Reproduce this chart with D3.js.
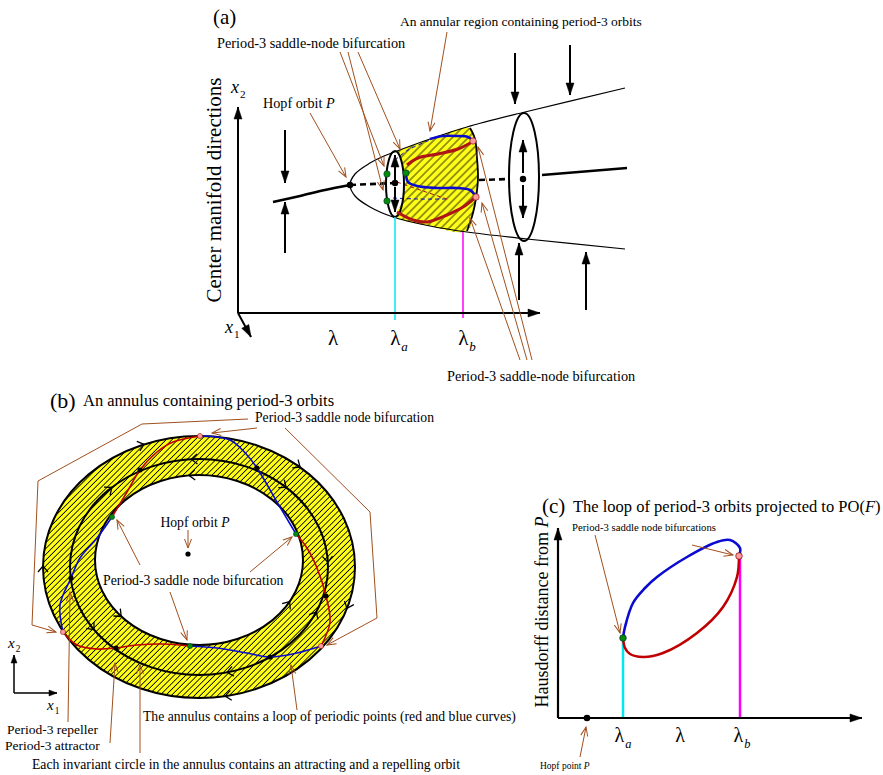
<!DOCTYPE html>
<html>
<head>
<meta charset="utf-8">
<script src="https://cdnjs.cloudflare.com/ajax/libs/d3/7.8.5/d3.min.js"></script>
<style>
  body { margin: 0; background: #fff; }
  text { font-family: "Liberation Serif", "Times New Roman", serif; fill: #000; }
</style>
</head>
<body>
<div id="chart"></div>
<script>
// ---------- panel (a): x along the lambda axis, y above it ----------
const aParabolaUpper = [[112,128],[117,139],[132,150],[146,157],[159,162],[192,174],[229,186],[287,201],[387,225]];
const aParabolaLower = [[112,128],[117,117],[132,106],[155,96],[192,87],[229,81],[289,74],[387,64]];
const aStableLeft = [[35,111],[62,117],[87,123],[112,128]];
const aStableRight = [[304,138],[389,145]];
const aDashed = [[[112,128],[157,130]], [[241,133],[272,134]]];
const aEllipses = [{c:[157,129], rx:9, ry:33}, {c:[286,136], rx:15, ry:64}];
const aTube = [[159,162],[192,174],[232,185],[237,174],[239,155],[240,135],[238,115],[235,100],[229,82],
               [192,87],[159,97],[165,113],[167,130],[165,147],[159,162]];
const aTubeRim = [[232,185],[237,174],[239,155],[240,135],[238,115],[235,100],[229,82]];
const aBlue = [[[192,174],[205,177],[219,177],[230,176],[235,172]],
               [[168,140],[170,131],[179,127],[199,125],[219,125],[232,123],[238,116]]];
const aRed = [[[169,148],[180,155],[200,159],[220,164],[234,171]],
              [[159,101],[175,93],[189,91],[209,98],[225,106],[238,116]]];
const aHiddenBlue = [[[157,153],[170,163],[192,173]], [[155,115],[180,114],[209,114]]];
const aHiddenRed = [[[159,131],[185,122],[212,113]]];
const aGreenDots = [[149,139],[149,112],[168,140]];
const aPinkDots = [[235,172],[238,116]];
const aBlackDots = [[112,128],[157,130],[285,134]];
const aInnerArrows = [[[157,133],[157,158]], [[157,126],[157,101]], [[285,140],[285,173]], [[285,128],[285,95]]];
const aFlowArrows = [[[47,183],[47,130]], [[47,60],[47,111]], [[277,260],[277,209]],
                     [[332,268],[332,218]], [[281,13],[281,70]], [[348,3],[348,61]]];
const aAxes = [[[0,0],[0,206]], [[0,0],[302,0]], [[0,0],[13,-24]]];
const aLambdaA = [[157,96],[157,-7]];
const aLambdaB = [[225,81],[225,-5]];
const aLeaders = [[[72,200],[108,136]], [[102,261],[146,147]], [[110,261],[145,123]], [[120,261],[162,164]],
                  [[209,281],[192,182]], [[294,-47],[240,166]], [[289,-47],[244,110]], [[282,-47],[232,95]]];

// ---------- panel (b): centred on the annulus, y up ----------
const bRings = [{name:"outer", c:[0,0], rx:156, ry:131},
                {name:"middle", c:[0,0], rx:129, ry:108},
                {name:"inner", c:[0,7], rx:104, ry:85}];
// chevrons: ring, parameter angle (deg), direction (+1 clockwise on screen)
const bChevrons = [["outer",-111,1],["outer",-50,1],["outer",18,1],["outer",80,1],["outer",180,1],
                   ["middle",-133,1],["middle",-93,-1],["middle",-48,1],["middle",-3,1],["middle",25,-1],
                   ["middle",77,1],["middle",145,-1],
                   ["inner",-95,-1],["inner",139,-1],["inner",30,-1]];
const bRed = [[[1,131],[-26,125],[-42,115],[-59,97],[-72,75],[-87,50]],
              [[-136,-65],[-122,-78],[-102,-82],[-83,-81],[-62,-78],[-36,-77],[-9,-79]],
              [[122,-79],[131,-55],[127,-29],[118,-1],[108,19],[97,33]]];
const bBlue = [[[-87,50],[-102,29],[-119,9],[-128,-11],[-139,-38],[-136,-65]],
               [[-9,-79],[18,-81],[48,-86],[71,-90],[98,-86],[122,-79]],
               [[97,33],[78,65],[58,99],[48,112],[31,127],[1,131]]];
const bBlackDots = [[-59,97],[-128,-11],[-83,-81],[71,-90],[127,-29],[58,99],[-11,13]];
const bGreenDots = [[-87,50],[-9,-79],[97,33]];
const bPinkDots = [[1,131],[-136,-65],[122,-79]];
const bLeaders = [[[58,139],[13,134]],
                  [[49,148],[-57,143],[-161,86],[-167,-58],[-143,-65]],
                  [[86,139],[171,55],[178,-51],[128,-78]],
                  [[-11,37],[-11,19]],
                  [[-59,2],[-82,47]], [[51,-5],[93,30]], [[-29,-25],[-12,-73]],
                  [[-131,-155],[-129,-25]], [[-89,-176],[-84,-96]],
                  [[-59,-186],[-59,-98]], [[98,-143],[92,-98]]];
const bAxes = [[[-185,-126],[-185,-88]], [[-185,-126],[-142,-126]]];

// ---------- panel (c): origin at the axes corner ----------
const cBlue = [[65,80],[67,91],[75,115],[87,130],[99,141],[129,161],[159,176],[172,178],[182,170],[181,162]];
const cRed = [[181,162],[179,141],[165,111],[139,85],[105,65],[85,61],[72,64],[67,70],[65,80]];
const cAxes = [[[0,0],[0,190]], [[0,0],[304,0]]];
const cLambdaA = [[65,80],[65,0]];
const cLambdaB = [[182,162],[182,0]];
const cHopf = [29,0];
const cGreen = [65,80];
const cPink = [181,162];
const cLeaders = [[[37,183],[62,85]], [[134,173],[175,163]], [[22,-39],[28,-9]]];

// ---------- drawing ----------
const YELLOW = "#ffff1a", BROWN = "#a0501e", RED = "#c00000", DARKRED = "#b01515",
      BLUE = "#0a0ad0", CYAN = "#00e8f0", MAGENTA = "#ff00ff", GREEN = "#0a8a0a", PINK = "#ff9a9a";

const svg = d3.select("#chart").append("svg").attr("width", 883).attr("height", 775);
const defs = svg.append("defs");

function marker(id, w, h, color, filled) {
  defs.append("marker").attr("id", id)
    .attr("markerUnits", "userSpaceOnUse")
    .attr("viewBox", `-1 -1 ${w + 2} ${h + 2}`)
    .attr("markerWidth", w + 2).attr("markerHeight", h + 2)
    .attr("refX", w).attr("refY", h / 2).attr("orient", "auto")
    .append("path")
    .attr("d", `M0,0 L${w},${h / 2} L0,${h}` + (filled ? "Z" : ""))
    .attr("fill", filled ? color : "none")
    .attr("stroke", color).attr("stroke-width", filled ? 0.5 : 1);
}
marker("ahBlack", 12, 8, "#000", true);
marker("ahSmall", 8, 6, "#000", true);
marker("ahBrown", 9, 7, BROWN, false);

function hatch(id, gap, sw) {
  const p = defs.append("pattern").attr("id", id)
    .attr("patternUnits", "userSpaceOnUse")
    .attr("width", gap).attr("height", gap)
    .attr("patternTransform", "rotate(45)");
  p.append("rect").attr("width", gap).attr("height", gap).attr("fill", YELLOW);
  p.append("line").attr("x1", gap / 2).attr("x2", gap / 2).attr("y1", 0).attr("y2", gap)
    .attr("stroke", "#000").attr("stroke-width", sw);
}
hatch("hatchA", 5.6, 0.8);
hatch("hatchB", 4.1, 0.85);

// text with italic / subscript pieces: parts = [[str, "i" | "sub" | "isub" | ""]]
function label(g, x, y, parts, size, opts = {}) {
  const t = g.append("text").attr("x", x).attr("y", y).attr("font-size", size)
    .attr("text-anchor", opts.anchor || "start");
  if (opts.rotate) t.attr("transform", `rotate(${opts.rotate},${x},${y})`);
  let shifted = false;
  parts.forEach(([s, st]) => {
    const sp = t.append("tspan").text(s);
    if (st === "i" || st === "isub") sp.attr("font-style", "italic");
    if (st === "sub" || st === "isub") {
      sp.attr("font-size", size * 0.62).attr("dy", size * 0.28).attr("dx", 1);
      shifted = true;
    } else if (shifted) {
      sp.attr("dy", -size * 0.28);
      shifted = false;
    }
  });
  return t;
}

function panel(xs, ys) {
  const g = svg.append("g");
  const lin = d3.line().x(d => xs(d[0])).y(d => ys(d[1]));
  const smooth = d3.line().x(d => xs(d[0])).y(d => ys(d[1])).curve(d3.curveCatmullRom.alpha(0.5));
  return {g, lin, smooth, xs, ys};
}

// ===== panel (a) =====
{
  const xa = d3.scaleLinear().domain([0, 100]).range([238, 338]);
  const ya = d3.scaleLinear().domain([0, 100]).range([313, 213]);
  const {g, lin, smooth} = panel(xa, ya);

  g.append("path").attr("d", smooth(aTube)).attr("fill", "url(#hatchA)").attr("stroke", "none");
  g.append("path").attr("d", smooth(aTubeRim)).attr("fill", "none").attr("stroke", "#000").attr("stroke-width", 1.8);

  // hidden (back) curves
  aHiddenBlue.forEach(p => g.append("path").attr("d", smooth(p)).attr("fill", "none")
    .attr("stroke", BLUE).attr("stroke-width", 1).attr("stroke-dasharray", "4,3"));
  aHiddenRed.forEach(p => g.append("path").attr("d", smooth(p)).attr("fill", "none")
    .attr("stroke", DARKRED).attr("stroke-width", 1).attr("stroke-dasharray", "4,3"));

  // parabola of invariant circles
  const parab = aParabolaUpper.slice().reverse().concat(aParabolaLower.slice(1));
  g.append("path").attr("d", smooth(parab)).attr("fill", "none").attr("stroke", "#000").attr("stroke-width", 1.2);

  // fixed point branches
  g.append("path").attr("d", smooth(aStableLeft)).attr("fill", "none").attr("stroke", "#000").attr("stroke-width", 2.6);
  g.append("path").attr("d", lin(aStableRight)).attr("fill", "none").attr("stroke", "#000").attr("stroke-width", 2.6);
  aDashed.forEach(p => g.append("path").attr("d", lin(p)).attr("fill", "none")
    .attr("stroke", "#000").attr("stroke-width", 2.6).attr("stroke-dasharray", "6,4"));

  aEllipses.forEach(e => g.append("ellipse")
    .attr("cx", xa(e.c[0])).attr("cy", ya(e.c[1]))
    .attr("rx", xa(e.rx) - xa(0)).attr("ry", ya(0) - ya(e.ry))
    .attr("fill", "none").attr("stroke", "#000").attr("stroke-width", 2));

  aRed.forEach(p => g.append("path").attr("d", smooth(p)).attr("fill", "none").attr("stroke", DARKRED).attr("stroke-width", 3));
  aBlue.forEach(p => g.append("path").attr("d", smooth(p)).attr("fill", "none").attr("stroke", BLUE).attr("stroke-width", 2.6));

  // lambda_a, lambda_b markers
  g.append("path").attr("d", lin(aLambdaA)).attr("stroke", CYAN).attr("stroke-width", 1.5);
  g.append("path").attr("d", lin(aLambdaB)).attr("stroke", MAGENTA).attr("stroke-width", 1.5);

  // axes and arrows
  aAxes.forEach(p => g.append("path").attr("d", lin(p)).attr("stroke", "#000").attr("stroke-width", 2)
    .attr("marker-end", "url(#ahBlack)"));
  aFlowArrows.concat(aInnerArrows).forEach(p => g.append("path").attr("d", lin(p)).attr("stroke", "#000")
    .attr("stroke-width", 2).attr("marker-end", "url(#ahBlack)"));

  aLeaders.forEach(p => g.append("path").attr("d", lin(p)).attr("fill", "none").attr("stroke", BROWN)
    .attr("stroke-width", 1).attr("marker-end", "url(#ahBrown)"));

  aBlackDots.forEach(d => g.append("circle").attr("cx", xa(d[0])).attr("cy", ya(d[1])).attr("r", 3.2).attr("fill", "#000"));
  aGreenDots.forEach(d => g.append("circle").attr("cx", xa(d[0])).attr("cy", ya(d[1])).attr("r", 3.2)
    .attr("fill", GREEN).attr("stroke", "#033").attr("stroke-width", 0.6));
  aPinkDots.forEach(d => g.append("circle").attr("cx", xa(d[0])).attr("cy", ya(d[1])).attr("r", 3.2)
    .attr("fill", PINK).attr("stroke", "#700").attr("stroke-width", 0.6));

  label(g, xa(-25), ya(289), [["(a)", ""]], 21);
  label(g, xa(162), ya(287), [["An annular region containing period-3 orbits", ""]], 13.5);
  label(g, xa(-21), ya(265), [["Period-3 saddle-node bifurcation", ""]], 14.3);
  label(g, xa(-7), ya(220), [["x", "i"], ["2", "sub"]], 18);
  label(g, xa(25), ya(205), [["Hopf orbit ", ""], ["P", "i"]], 14.2);
  label(g, xa(-17), ya(123), [["Center manifold directions", ""]], 21, {anchor: "middle", rotate: -90});
  label(g, xa(-13), ya(-20), [["x", "i"], ["1", "sub"]], 18);
  label(g, xa(95), ya(-32), [["λ", ""]], 21, {anchor: "middle"});
  label(g, xa(161), ya(-32), [["λ", ""], ["a", "isub"]], 21, {anchor: "middle"});
  label(g, xa(229), ya(-32), [["λ", ""], ["b", "isub"]], 21, {anchor: "middle"});
  label(g, xa(209), ya(-68), [["Period-3 saddle-node bifurcation", ""]], 14.3);
}

// ===== panel (b) =====
{
  const xb = d3.scaleLinear().domain([0, 100]).range([199, 299]);
  const yb = d3.scaleLinear().domain([0, 100]).range([567, 467]);
  const {g, lin, smooth} = panel(xb, yb);
  const ring = {};
  bRings.forEach(r => ring[r.name] = {cx: xb(r.c[0]), cy: yb(r.c[1]), rx: xb(r.rx) - xb(0), ry: yb(0) - yb(r.ry)});

  const ell = r => `M${r.cx - r.rx},${r.cy} a${r.rx},${r.ry} 0 1,0 ${2 * r.rx},0 a${r.rx},${r.ry} 0 1,0 ${-2 * r.rx},0 Z`;
  g.append("path").attr("d", ell(ring.outer) + ell(ring.inner))
    .attr("fill", "url(#hatchB)").attr("fill-rule", "evenodd");

  Object.values(ring).forEach(r => g.append("ellipse").attr("cx", r.cx).attr("cy", r.cy)
    .attr("rx", r.rx).attr("ry", r.ry).attr("fill", "none").attr("stroke", "#000").attr("stroke-width", 2));

  bChevrons.forEach(([name, deg, dir]) => {
    const r = ring[name], t = deg * Math.PI / 180;
    const px = r.cx + r.rx * Math.cos(t), py = r.cy + r.ry * Math.sin(t);
    const ang = Math.atan2(dir * r.ry * Math.cos(t), -dir * r.rx * Math.sin(t)) * 180 / Math.PI;
    g.append("path").attr("d", "M-5,-5 L1,0 L-5,5")
      .attr("transform", `translate(${px},${py}) rotate(${ang})`)
      .attr("fill", "none").attr("stroke", "#000").attr("stroke-width", 1.3);
  });

  bRed.forEach(p => g.append("path").attr("d", smooth(p)).attr("fill", "none").attr("stroke", RED).attr("stroke-width", 1.6));
  bBlue.forEach(p => g.append("path").attr("d", smooth(p)).attr("fill", "none").attr("stroke", BLUE).attr("stroke-width", 1.6));

  bLeaders.forEach(p => g.append("path").attr("d", lin(p)).attr("fill", "none").attr("stroke", BROWN)
    .attr("stroke-width", 1).attr("marker-end", "url(#ahBrown)"));
  bAxes.forEach(p => g.append("path").attr("d", lin(p)).attr("stroke", "#000").attr("stroke-width", 1.5)
    .attr("marker-end", "url(#ahSmall)"));

  bBlackDots.forEach(d => g.append("circle").attr("cx", xb(d[0])).attr("cy", yb(d[1])).attr("r", 2.6).attr("fill", "#000"));
  bGreenDots.forEach(d => g.append("circle").attr("cx", xb(d[0])).attr("cy", yb(d[1])).attr("r", 2.6)
    .attr("fill", GREEN).attr("stroke", "#033").attr("stroke-width", 0.5));
  bPinkDots.forEach(d => g.append("circle").attr("cx", xb(d[0])).attr("cy", yb(d[1])).attr("r", 2.6)
    .attr("fill", PINK).attr("stroke", "#700").attr("stroke-width", 0.5));

  label(g, xb(-149), yb(159), [["(b)", ""]], 22);
  label(g, xb(-116), yb(161), [["An annulus containing period-3 orbits", ""]], 16.5);
  label(g, xb(56), yb(145), [["Period-3 saddle node bifurcation", ""]], 13.7);
  label(g, xb(-4), yb(40), [["Hopf orbit ", ""], ["P", "i"]], 13.7, {anchor: "middle"});
  label(g, xb(-96), yb(-18), [["Period-3 saddle node bifurcation", ""]], 13.8);
  label(g, xb(-191), yb(-81), [["x", "i"], ["2", "sub"]], 15);
  label(g, xb(-152), yb(-143), [["x", "i"], ["1", "sub"]], 15);
  label(g, xb(-56), yb(-154), [["The annulus contains a loop of periodic points (red and blue curves)", ""]], 13.7);
  label(g, xb(-192), yb(-167), [["Period-3 repeller", ""]], 13.5);
  label(g, xb(-194), yb(-183), [["Period-3 attractor", ""]], 13.5);
  label(g, xb(-167), yb(-202), [["Each invariant circle in the annulus contains an attracting and a repelling orbit", ""]], 13.7);
}

// ===== panel (c) =====
{
  const xc = d3.scaleLinear().domain([0, 100]).range([558, 658]);
  const yc = d3.scaleLinear().domain([0, 100]).range([718, 618]);
  const {g, lin, smooth} = panel(xc, yc);

  g.append("path").attr("d", lin(cLambdaA)).attr("stroke", CYAN).attr("stroke-width", 2.5);
  g.append("path").attr("d", lin(cLambdaB)).attr("stroke", MAGENTA).attr("stroke-width", 2.5);
  cAxes.forEach(p => g.append("path").attr("d", lin(p)).attr("stroke", "#000").attr("stroke-width", 2.2)
    .attr("marker-end", "url(#ahBlack)"));

  g.append("path").attr("d", smooth(cBlue)).attr("fill", "none").attr("stroke", BLUE).attr("stroke-width", 2.6);
  g.append("path").attr("d", smooth(cRed)).attr("fill", "none").attr("stroke", RED).attr("stroke-width", 2.6);

  cLeaders.forEach(p => g.append("path").attr("d", lin(p)).attr("fill", "none").attr("stroke", BROWN)
    .attr("stroke-width", 1).attr("marker-end", "url(#ahBrown)"));

  g.append("circle").attr("cx", xc(cHopf[0])).attr("cy", yc(cHopf[1])).attr("r", 3.3).attr("fill", "#000");
  g.append("circle").attr("cx", xc(cGreen[0])).attr("cy", yc(cGreen[1])).attr("r", 3.3)
    .attr("fill", GREEN).attr("stroke", "#033").attr("stroke-width", 0.7);
  g.append("circle").attr("cx", xc(cPink[0])).attr("cy", yc(cPink[1])).attr("r", 3.3)
    .attr("fill", PINK).attr("stroke", "#700").attr("stroke-width", 0.7);

  label(g, xc(-16), yc(205), [["(c)", ""]], 21);
  label(g, xc(15), yc(206), [["The loop of period-3 orbits projected to PO(", ""], ["F", "i"], [")", ""]], 16.5);
  label(g, xc(14), yc(187), [["Period-3 saddle node bifurcations", ""]], 10.7);
  label(g, xc(-10), yc(106), [["Hausdorff distance from ", ""], ["P", "i"]], 18, {anchor: "middle", rotate: -90});
  label(g, xc(65), yc(-24), [["λ", ""], ["a", "isub"]], 20, {anchor: "middle"});
  label(g, xc(122), yc(-24), [["λ", ""]], 20, {anchor: "middle"});
  label(g, xc(184), yc(-24), [["λ", ""], ["b", "isub"]], 20, {anchor: "middle"});
  label(g, xc(-18), yc(-51), [["Hopf point ", ""], ["P", "i"]], 9.5);
}
</script>
</body>
</html>
